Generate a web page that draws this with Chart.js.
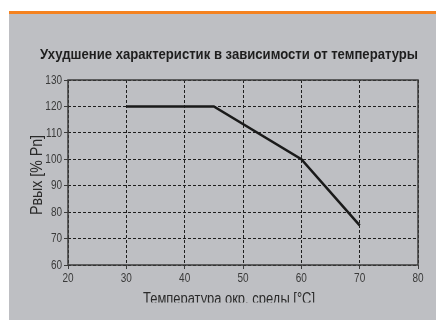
<!DOCTYPE html>
<html>
<head>
<meta charset="utf-8">
<script src="https://cdn.jsdelivr.net/npm/chart.js@4"></script>
<style>
  html, body { margin: 0; padding: 0; background: #ffffff; }
  #wrap { width: 436px; height: 320px; position: relative; }
</style>
</head>
<body>
<div id="wrap"><canvas id="deratingChart"></canvas></div>
<script>
// Derating curve: output power vs ambient temperature

const chartTitle = 'Ухудшение характеристик в зависимости от температуры';
const xAxisTitle = 'Температура окр. среды [°C]';
const yAxisTitle = 'Рвых [% Pn]';

const temperatures = [30, 45, 60, 70];
const outputPower = [120, 120, 100, 75];

const xTicks = [20, 30, 40, 50, 60, 70, 80];
const yTicks = [60, 70, 80, 90, 100, 110, 120, 130];

const baseFont = "'Liberation Sans', Arial, sans-serif";

/**
 * Draw text squeezed horizontally to a narrow face
 */
function narrowText(ctx, text, x, y, sx, align) {
    ctx.save();
    ctx.translate(x, y);
    ctx.scale(sx, 1);
    ctx.textAlign = align;
    ctx.fillText(text, 0, 0);
    ctx.restore();
}

/**
 * Draw text squeezed so it fits a given width
 */
function fitText(ctx, text, x, y, width) {
    const w = ctx.measureText(text).width;
    narrowText(ctx, text, x, y, width / w, 'center');
}

/**
 * Panel background, orange rule, titles, tick labels and plot frame
 */
const panelPlugin = {
    id: 'panel',
    beforeDraw(chart) {
        const ctx = chart.ctx;
        ctx.save();
        ctx.fillStyle = '#ffffff';
        ctx.fillRect(0, 0, chart.width, chart.height);
        ctx.fillStyle = '#bebfc3';
        ctx.fillRect(9, 14, chart.width - 9, chart.height - 14);
        ctx.fillStyle = '#f5821f';
        ctx.fillRect(9, 11, chart.width - 9, 3);

        ctx.fillStyle = '#1e1e1e';
        ctx.font = "bold 14px " + baseFont;
        ctx.textBaseline = 'alphabetic';
        fitText(ctx, chartTitle, 229, 59, 378);
        ctx.restore();
    },
    beforeDatasetsDraw(chart) {
        const ctx = chart.ctx;
        const a = chart.chartArea;
        ctx.save();
        ctx.strokeStyle = '#3c3c3c';
        ctx.lineWidth = 1.5;
        ctx.strokeRect(a.left, a.top, a.right - a.left, a.bottom - a.top);
        ctx.restore();
    },
    afterDraw(chart) {
        const ctx = chart.ctx;
        const xs = chart.scales.x;
        const ys = chart.scales.y;
        ctx.save();

        // tick labels
        ctx.fillStyle = '#3a3a3a';
        ctx.font = "13.5px " + baseFont;
        ctx.textBaseline = 'middle';
        yTicks.forEach(v => {
            narrowText(ctx, String(v), 62, ys.getPixelForValue(v), 0.74, 'right');
        });
        xTicks.forEach(v => {
            narrowText(ctx, String(v), xs.getPixelForValue(v), 278, 0.74, 'center');
        });

        // x axis title, cut off at the panel's lower text line
        ctx.fillStyle = '#2a2a2a';
        ctx.font = "16px " + baseFont;
        ctx.textBaseline = 'alphabetic';
        ctx.save();
        ctx.beginPath();
        ctx.rect(0, 0, chart.width, 302.5);
        ctx.clip();
        fitText(ctx, xAxisTitle, 229, 304, 172);
        ctx.restore();

        // y axis title
        ctx.font = "16px " + baseFont;
        ctx.translate(42, 175);
        ctx.rotate(-Math.PI / 2);
        fitText(ctx, yAxisTitle, 0, 0, 80);
        ctx.restore();
    }
};

function createDeratingChart() {
    const ctx = document.getElementById('deratingChart');
    if (!ctx) return null;

    const points = temperatures.map((t, i) => ({ x: t, y: outputPower[i] }));

    const gridOptions = {
        color: '#1e1e1e',
        lineWidth: 1,
        tickLength: 4,
        tickColor: '#3c3c3c',
        tickBorderDash: []
    };

    return new Chart(ctx, {
        type: 'line',
        data: {
            datasets: [{
                data: points,
                borderColor: '#1a1a1a',
                borderWidth: 2.5,
                pointRadius: 0,
                tension: 0,
                fill: false
            }]
        },
        options: {
            responsive: true,
            maintainAspectRatio: false,
            animation: false,
            layout: {
                padding: { top: 80, right: 18, left: 0, bottom: 0 }
            },
            plugins: {
                legend: { display: false },
                title: { display: false },
                tooltip: { enabled: false }
            },
            scales: {
                x: {
                    type: 'linear',
                    min: xTicks[0],
                    max: xTicks[xTicks.length - 1],
                    afterFit(scale) { scale.height = 55; },
                    afterBuildTicks(scale) { scale.ticks = xTicks.map(v => ({ value: v })); },
                    border: { display: false, dash: [3, 2] },
                    grid: gridOptions,
                    ticks: { display: false }
                },
                y: {
                    min: yTicks[0],
                    max: yTicks[yTicks.length - 1],
                    afterFit(scale) { scale.width = 68; },
                    afterBuildTicks(scale) { scale.ticks = yTicks.map(v => ({ value: v })); },
                    border: { display: false, dash: [3, 2] },
                    grid: gridOptions,
                    ticks: { display: false }
                }
            }
        },
        plugins: [panelPlugin]
    });
}

createDeratingChart();
</script>
</body>
</html>
